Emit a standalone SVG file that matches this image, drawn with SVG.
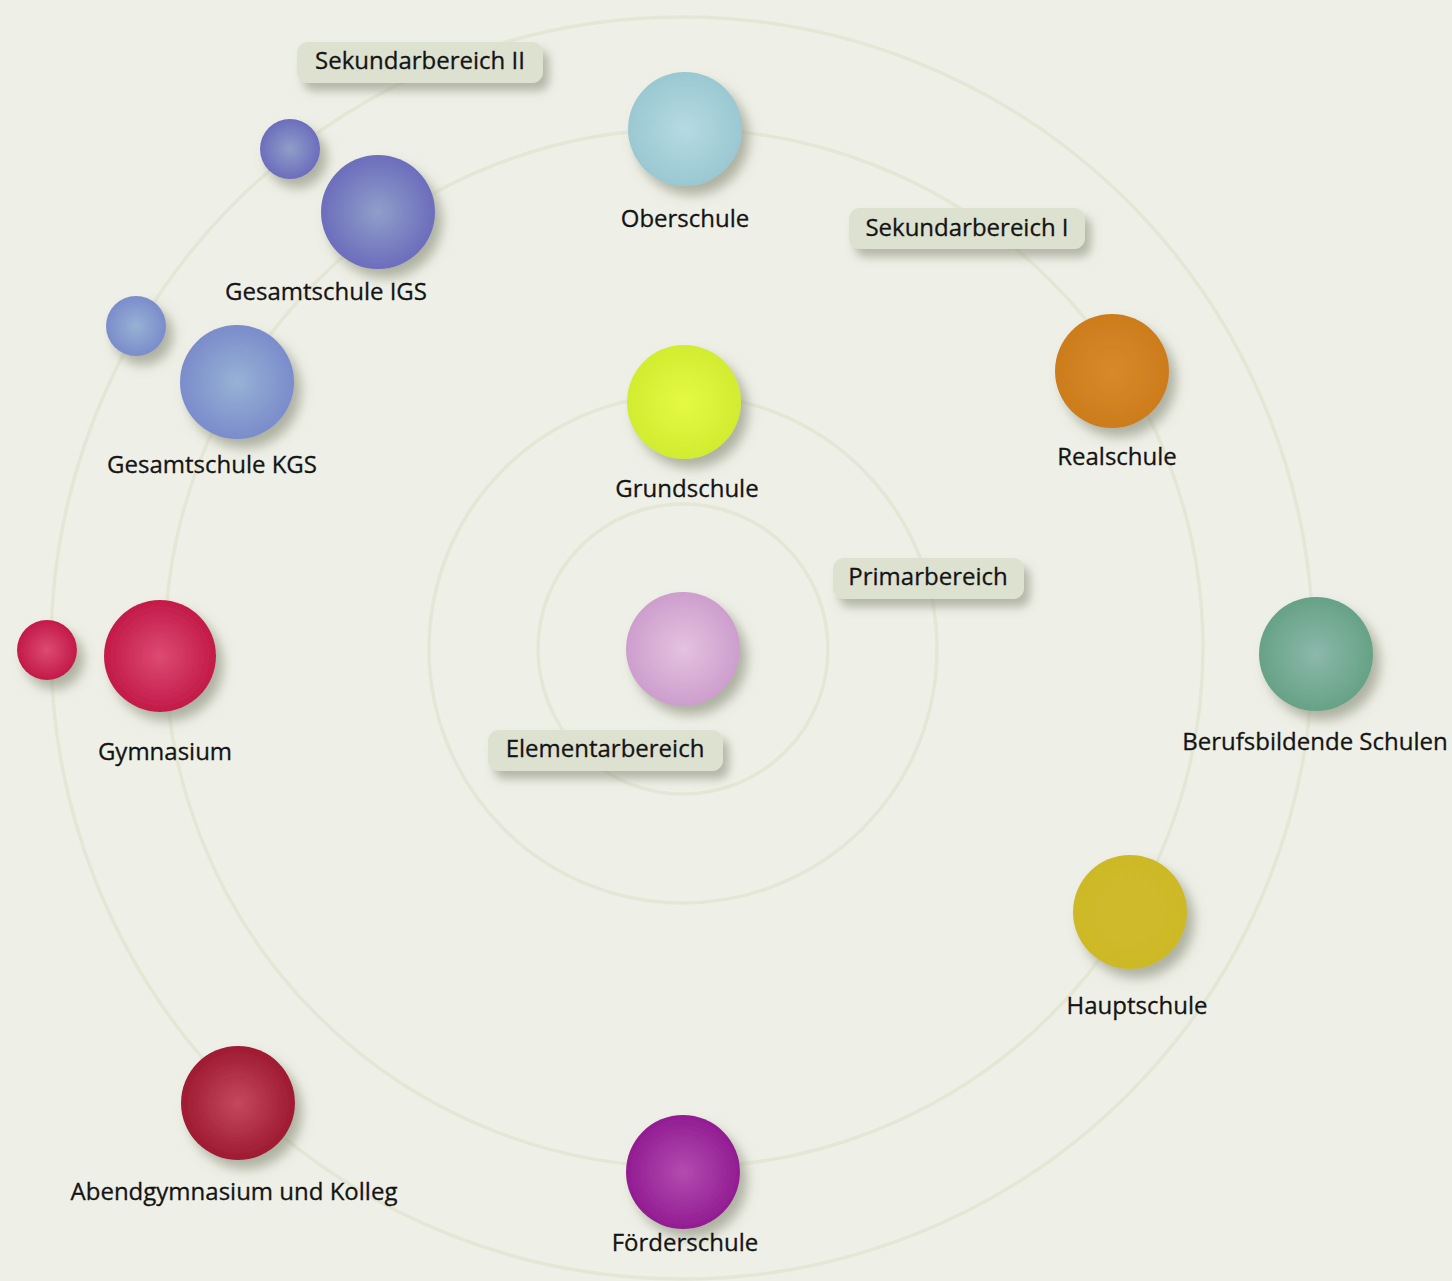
<svg xmlns="http://www.w3.org/2000/svg" width="1452" height="1281" viewBox="0 0 1452 1281">
<defs>
<style>
.lbl{font-family:"Open Sans","Noto Sans","DejaVu Sans",sans-serif;font-size:24px;fill:#141414;stroke:#141414;stroke-width:0.3;text-anchor:middle}
.pill{fill:#DDE1D0}
.ring{fill:none;stroke:#E4E7D6;stroke-width:3.5}
</style>
<filter id="sh" x="-40%" y="-40%" width="190%" height="190%">
<feDropShadow dx="7" dy="9" stdDeviation="6" flood-color="#7a7f6a" flood-opacity="0.55"/>
</filter>
<filter id="shp" x="-20%" y="-50%" width="140%" height="220%">
<feDropShadow dx="6" dy="8" stdDeviation="5" flood-color="#7a7f6a" flood-opacity="0.5"/>
</filter>
<radialGradient id="gBlue" cx="0.5" cy="0.5" r="0.5"><stop offset="0" stop-color="#B6DAE2"/><stop offset="1" stop-color="#9AC8D2"/></radialGradient>
<radialGradient id="gIgs" cx="0.5" cy="0.5" r="0.5"><stop offset="0" stop-color="#909EC9"/><stop offset="1" stop-color="#6C6DBC"/></radialGradient>
<radialGradient id="gKgs" cx="0.5" cy="0.5" r="0.5"><stop offset="0" stop-color="#97B2D5"/><stop offset="1" stop-color="#7B8CCB"/></radialGradient>
<radialGradient id="gGym" cx="0.5" cy="0.5" r="0.5"><stop offset="0" stop-color="#DC4A72"/><stop offset="1" stop-color="#C21A48"/></radialGradient>
<radialGradient id="gLime" cx="0.5" cy="0.5" r="0.5"><stop offset="0" stop-color="#E4FA44"/><stop offset="1" stop-color="#D2EC30"/></radialGradient>
<radialGradient id="gPink" cx="0.5" cy="0.5" r="0.5"><stop offset="0" stop-color="#E4C2E0"/><stop offset="1" stop-color="#CD9ECD"/></radialGradient>
<radialGradient id="gOrange" cx="0.5" cy="0.5" r="0.5"><stop offset="0" stop-color="#D88A2A"/><stop offset="1" stop-color="#CC7C1C"/></radialGradient>
<radialGradient id="gGreen" cx="0.5" cy="0.5" r="0.5"><stop offset="0" stop-color="#8CB8AC"/><stop offset="1" stop-color="#66A286"/></radialGradient>
<radialGradient id="gYellow" cx="0.5" cy="0.5" r="0.5"><stop offset="0" stop-color="#CFBB2A"/><stop offset="1" stop-color="#CDB928"/></radialGradient>
<radialGradient id="gDark" cx="0.5" cy="0.5" r="0.5"><stop offset="0" stop-color="#C4485E"/><stop offset="1" stop-color="#9E1A32"/></radialGradient>
<radialGradient id="gPurple" cx="0.5" cy="0.5" r="0.5"><stop offset="0" stop-color="#B24CB0"/><stop offset="1" stop-color="#921C92"/></radialGradient>
</defs>
<rect width="1452" height="1281" fill="#EEEFE6"/>
<g id="orbits">
<circle class="ring" cx="683" cy="649" r="145"/>
<circle class="ring" cx="683" cy="649" r="254"/>
<circle class="ring" cx="684" cy="648" r="519"/>
<circle class="ring" cx="682" cy="648" r="631"/>
</g>
<g id="sekundarbereich-ii"><rect class="pill" x="297" y="42" width="246" height="41" rx="11" filter="url(#shp)"/><text class="lbl" x="420" y="69">Sekundarbereich II</text></g>
<g id="sekundarbereich-i"><rect class="pill" x="849" y="208" width="236" height="41" rx="11" filter="url(#shp)"/><text class="lbl" x="967" y="236">Sekundarbereich I</text></g>
<g id="primarbereich"><rect class="pill" x="833" y="558" width="191" height="41" rx="11" filter="url(#shp)"/><text class="lbl" x="928" y="585">Primarbereich</text></g>
<g id="elementarbereich"><circle cx="683" cy="649" r="57" fill="url(#gPink)" filter="url(#sh)"/><rect class="pill" x="488" y="730" width="235" height="41" rx="11" filter="url(#shp)"/><text class="lbl" x="605" y="757">Elementarbereich</text></g>
<g id="oberschule"><circle cx="685" cy="129" r="57" fill="url(#gBlue)" filter="url(#sh)"/><text class="lbl" x="685" y="227">Oberschule</text></g>
<g id="gesamtschule-igs"><circle cx="290" cy="149" r="30" fill="url(#gIgs)" filter="url(#sh)"/><circle cx="378" cy="212" r="57" fill="url(#gIgs)" filter="url(#sh)"/><text class="lbl" x="326" y="300">Gesamtschule IGS</text></g>
<g id="gesamtschule-kgs"><circle cx="136" cy="326" r="30" fill="url(#gKgs)" filter="url(#sh)"/><circle cx="237" cy="382" r="57" fill="url(#gKgs)" filter="url(#sh)"/><text class="lbl" x="212" y="473">Gesamtschule KGS</text></g>
<g id="gymnasium"><circle cx="47" cy="650" r="30" fill="url(#gGym)" filter="url(#sh)"/><circle cx="160" cy="656" r="56" fill="url(#gGym)" filter="url(#sh)"/><text class="lbl" x="165" y="760">Gymnasium</text></g>
<g id="grundschule"><circle cx="684" cy="402" r="57" fill="url(#gLime)" filter="url(#sh)"/><text class="lbl" x="687" y="497">Grundschule</text></g>
<g id="realschule"><circle cx="1112" cy="371" r="57" fill="url(#gOrange)" filter="url(#sh)"/><text class="lbl" x="1117" y="465">Realschule</text></g>
<g id="berufsbildende-schulen"><circle cx="1316" cy="654" r="57" fill="url(#gGreen)" filter="url(#sh)"/><text class="lbl" x="1315" y="750">Berufsbildende Schulen</text></g>
<g id="hauptschule"><circle cx="1130" cy="912" r="57" fill="url(#gYellow)" filter="url(#sh)"/><text class="lbl" x="1137" y="1014">Hauptschule</text></g>
<g id="abendgymnasium"><circle cx="238" cy="1103" r="57" fill="url(#gDark)" filter="url(#sh)"/><text class="lbl" x="234" y="1200">Abendgymnasium und Kolleg</text></g>
<g id="foerderschule"><circle cx="683" cy="1172" r="57" fill="url(#gPurple)" filter="url(#sh)"/><text class="lbl" x="685" y="1251">Förderschule</text></g>
</svg>
